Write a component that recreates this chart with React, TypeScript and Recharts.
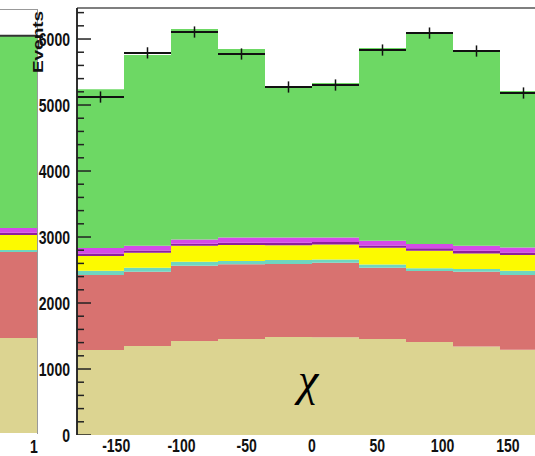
import { Bar, BarChart, ComposedChart, ErrorBar, ReferenceLine, Scatter, XAxis, YAxis } from "recharts";

// 10 bins of 36 from -180 to 180
const binCenters = [-162, -126, -90, -54, -18, 18, 54, 90, 126, 162];
const xTicks = [-150, -100, -50, 0, 50, 100, 150];
const yMajorTicks = [0, 1000, 2000, 3000, 4000, 5000, 6000];
const yMinorTicks = [200, 400, 600, 800, 1200, 1400, 1600, 1800, 2200, 2400, 2600, 2800, 3200, 3400, 3600, 3800, 4200, 4400, 4600, 4800, 5200, 5400, 5600, 5800, 6200, 6400];

// stacked MC components, bottom to top
const khaki = [1288, 1348, 1424, 1454, 1485, 1480, 1454, 1410, 1340, 1290];
const salmon = [1136, 1126, 1141, 1132, 1105, 1131, 1081, 1075, 1134, 1134];
const cyan = [65, 60, 60, 50, 60, 50, 50, 40, 40, 65];
const yellow = [222, 227, 242, 242, 227, 227, 252, 268, 237, 237];
const darkPurple = [40, 35, 30, 35, 35, 35, 35, 35, 40, 40];
const magenta = [82, 70, 65, 80, 80, 70, 70, 65, 75, 75];
const green = [2407, 2891, 3188, 2855, 2296, 2340, 2922, 3197, 2967, 2371];

// data points
const dataValues = [5121, 5790, 6106, 5773, 5273, 5303, 5833, 6090, 5818, 5182];
const dataErrors = [85, 85, 85, 85, 85, 85, 85, 85, 85, 85];

// neighbouring panel (only its right edge is visible)
const leftKhaki = 1437;
const leftSalmon = 1301;
const leftCyan = 30;
const leftYellow = 227;
const leftDarkPurple = 35;
const leftMagenta = 70;
const leftGreen = 2906;
const leftDataPoint = 6010;

const COLORS = {
  khaki: "#dcd491",
  salmon: "#d87270",
  cyan: "#6fd6c0",
  yellow: "#fcfa00",
  darkPurple: "#8e1f9e",
  magenta: "#d54ae8",
  green: "#6dd864",
};

const rows = binCenters.map((c, i) => ({
  bin: c,
  khaki: khaki[i],
  salmon: salmon[i],
  cyan: cyan[i],
  yellow: yellow[i],
  darkPurple: darkPurple[i],
  magenta: magenta[i],
  green: green[i],
}));

const points = binCenters.map((c, i) => ({ x: c, y: dataValues[i], err: dataErrors[i], xerr: 18 }));

// inside tick marks on the left edge of the frame
const tickMarks = [
  ...yMajorTicks.map((v) => ({ x: -180, y: v, len: 14 })),
  ...yMinorTicks.map((v) => ({ x: -180, y: v, len: 7 })),
];

const leftRows = [
  {
    bin: "1",
    khaki: leftKhaki,
    salmon: leftSalmon,
    cyan: leftCyan,
    yellow: leftYellow,
    darkPurple: leftDarkPurple,
    magenta: leftMagenta,
    green: leftGreen,
  },
];

const layers = ["khaki", "salmon", "cyan", "yellow", "darkPurple", "magenta", "green"] as const;

const FONT = '"Liberation Sans", Arial, sans-serif';
const Y_DOMAIN: [number, number] = [0, 6470];

function YTick({ x, y, payload }: any) {
  return (
    <g transform={`translate(${x - 7},${y + 6.5})`}>
      <text transform="scale(0.78,1)" textAnchor="end" fontFamily={FONT} fontWeight="bold" fontSize={18} fill="#111">
        {payload.value}
      </text>
    </g>
  );
}

// the number axis sits 30px lower than the plot bottom (hidden category axis), pull the text back up
function XTick({ x, y, payload }: any) {
  return (
    <g transform={`translate(${x},${y - 13})`}>
      <text transform="scale(0.78,1)" textAnchor="middle" fontFamily={FONT} fontWeight="bold" fontSize={18} fill="#111">
        {payload.value}
      </text>
    </g>
  );
}

function TickMark({ cx, cy, payload }: any) {
  return <line x1={cx} x2={cx + payload.len} y1={cy} y2={cy} stroke="#222" strokeWidth={1.5} />;
}

function EventsLabel() {
  return (
    <g transform="translate(43,42) rotate(-90) scale(1,0.78)">
      <text textAnchor="middle" fontFamily={FONT} fontWeight="bold" fontSize={19} fill="#111">
        Events
      </text>
    </g>
  );
}

export default function App() {
  return (
    <div style={{ position: "absolute", left: 0, top: 0, width: 535, height: 456, overflow: "hidden", background: "#fff" }}>
      <div
        style={{
          position: "absolute",
          left: 0,
          top: 9,
          width: 37,
          height: 424,
          borderTop: "1px solid #999",
          borderRight: "1px solid #999",
        }}
      >
        <BarChart width={37} height={423} data={leftRows} margin={{ top: 0, right: 0, bottom: 0, left: 0 }} barCategoryGap={0} barGap={0}>
          <XAxis dataKey="bin" hide />
          <YAxis domain={[0, 6400]} hide allowDataOverflow />
          {layers.map((k) => (
            <Bar key={k} dataKey={k} stackId="a" fill={COLORS[k]} isAnimationActive={false} />
          ))}
          <ReferenceLine y={leftDataPoint} stroke="#333" strokeWidth={2} />
        </BarChart>
      </div>
      <div style={{ position: "absolute", left: 29, top: 437, fontFamily: FONT, fontWeight: "bold", fontSize: 18, lineHeight: "20px", color: "#111", transform: "scale(0.78,1)" }}>
        1
      </div>
      <div style={{ position: "absolute", left: 0, top: 0 }}>
        <ComposedChart width={560} height={456} data={rows} margin={{ top: 8, right: 13, bottom: 0, left: 0 }} barCategoryGap={0} barGap={0}>
          <XAxis xAxisId="cat" dataKey="bin" type="category" hide />
          <XAxis
            xAxisId="num"
            dataKey="x"
            type="number"
            domain={[-180, 180]}
            ticks={xTicks}
            height={21}
            tickSize={0}
            tickMargin={0}
            tickLine={false}
            tick={<XTick />}
            axisLine={{ stroke: "#9a9370", strokeWidth: 1.5 }}
            allowDataOverflow
          />
          <YAxis
            width={77}
            domain={Y_DOMAIN}
            ticks={yMajorTicks}
            interval={0}
            tickSize={0}
            tickMargin={0}
            tickLine={false}
            tick={<YTick />}
            axisLine={{ stroke: "#222", strokeWidth: 1.5 }}
            allowDataOverflow
            label={<EventsLabel />}
          />
          {layers.map((k) => (
            <Bar key={k} xAxisId="cat" dataKey={k} stackId="a" fill={COLORS[k]} isAnimationActive={false} />
          ))}
          <Scatter xAxisId="num" data={tickMarks} dataKey="y" shape={<TickMark />} isAnimationActive={false} />
          <Scatter xAxisId="num" data={points} dataKey="y" fill="none" shape={() => <g />} isAnimationActive={false}>
            <ErrorBar dataKey="err" direction="y" width={0} stroke="#111" strokeWidth={1.5} />
            <ErrorBar dataKey="xerr" direction="x" width={0} stroke="#111" strokeWidth={2} />
          </Scatter>
          <ReferenceLine xAxisId="num" y={6470} stroke="#555" strokeWidth={1.5} ifOverflow="visible" />
          <ReferenceLine xAxisId="num" x={-180} stroke="#222" strokeWidth={1.5} ifOverflow="visible" />
        </ComposedChart>
      </div>
      <div
        style={{
          position: "absolute",
          left: 298,
          top: 355,
          fontFamily: '"Liberation Serif", "Times New Roman", serif',
          fontStyle: "italic",
          fontSize: 46,
          lineHeight: "50px",
          color: "#000",
        }}
      >
        χ
      </div>
    </div>
  );
}
